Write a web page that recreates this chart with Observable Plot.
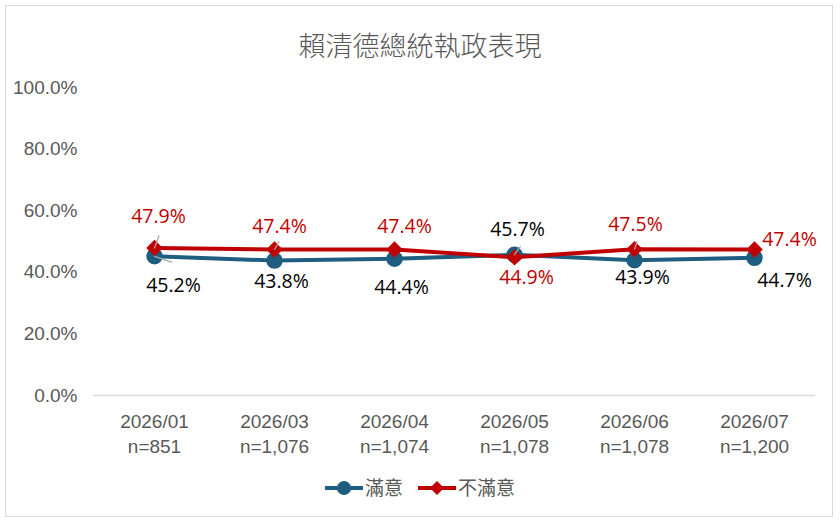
<!DOCTYPE html>
<html><head><meta charset="utf-8">
<script src="https://cdn.jsdelivr.net/npm/d3@7"></script>
<script src="https://cdn.jsdelivr.net/npm/@observablehq/plot@0.6"></script>
<style>
html,body{margin:0;padding:0;background:#fff}
body{width:840px;height:522px;position:relative;overflow:hidden}
#frame{position:absolute;left:5px;top:5px;width:828px;height:512px;border:1px solid #d9d9d9;box-sizing:border-box}
#title{position:absolute;left:0;top:27px;width:840px;text-align:center;font-family:"Noto Sans CJK TC",sans-serif;font-size:27px;font-weight:300;color:#595959;line-height:36px}
#chart{position:absolute;left:0;top:65px}
#legend{position:absolute;left:0;top:474px;width:840px;height:28px}
</style>
</head><body>
<div id="frame"></div>
<div id="title">賴清德總統執政表現</div>
<div id="chart"></div>
<div id="legend"></div>
<script>
const categories = ["2026/01","2026/03","2026/04","2026/05","2026/06","2026/07"];
const sampleSizes = ["851","1,076","1,074","1,078","1,078","1,200"];
const satisfied = [45.2,43.8,44.4,45.7,43.9,44.7];
const dissatisfied = [47.9,47.4,47.4,44.9,47.5,47.4];
const yTicks = [0,20,40,60,80,100];
const seriesNames = ["滿意","不滿意"];

const blue = "#1d5e80", red = "#c00000";
// label offsets in pixels (layout only)
const satOffsets = [[19,29],[7,21],[7,29],[3,-25],[8,17],[30,23]];
const disOffsets = [[4,-31],[5,-23],[10,-23],[12,21],[1,-24],[35,-10]];
// leader lines: [series, index, angle, length]
const leaders = [["dis",0,20,13],["sat",0,109,18],["dis",1,30,9],["sat",3,35,10],["dis",4,18,8]];

const satData = categories.map((c,i)=>({c, v: satisfied[i]}));
const disData = categories.map((c,i)=>({c, v: dissatisfied[i]}));

const labelMarks = [];
satData.forEach((d,i)=>labelMarks.push(Plot.text([d],{x:"c",y:"v",text:d=>d.v.toFixed(1)+"%",dx:satOffsets[i][0],dy:satOffsets[i][1],fill:"#000",fontSize:19.5,fontFamily:"Open Sans"})));
disData.forEach((d,i)=>labelMarks.push(Plot.text([d],{x:"c",y:"v",text:d=>d.v.toFixed(1)+"%",dx:disOffsets[i][0],dy:disOffsets[i][1],fill:red,fontSize:19.5,fontFamily:"Open Sans"})));
const leaderMarks = leaders.map(([s,i,a,l])=>{
  const d = (s==="sat"?satData:disData)[i];
  return Plot.vector([d],{x:"c",y:"v",rotate:a,length:l,anchor:"start",stroke:"#a6a6a6",strokeWidth:1.3,shape:{draw(ctx,l){ctx.moveTo(0,0);ctx.lineTo(0,-l);}}});
});

const chart = Plot.plot({
  width: 840, height: 395,
  marginLeft: 93, marginRight: 25, marginTop: 22, marginBottom: 65,
  style: {fontFamily: '"Liberation Sans Narrow","Liberation Sans",sans-serif', fontSize: "19px", color: "#595959", background: "transparent"},
  x: {type: "point", domain: categories, padding: 0.5},
  y: {domain: [0,100]},
  marks: [
    Plot.ruleY([0], {stroke: "#d9d9d9", strokeWidth: 1.3}),
    Plot.axisY(yTicks, {tickSize: 0, tickPadding: 16, tickFormat: d => d.toFixed(1)+"%", fontSize: 19, label: null}),
    Plot.axisX({tickSize: 0, tickPadding: 15, lineHeight: 1.3, fontSize: 19,
      tickFormat: d => d + "\nn=" + sampleSizes[categories.indexOf(d)], label: null}),
    Plot.line(satData, {x:"c", y:"v", stroke: blue, strokeWidth: 4}),
    Plot.dot(satData, {x:"c", y:"v", r: 7.5, fill: blue, stroke: blue}),
    Plot.line(disData, {x:"c", y:"v", stroke: red, strokeWidth: 4}),
    Plot.dot(disData, {x:"c", y:"v", r: 6.5, symbol: "diamond2", fill: red, stroke: red}),
    ...leaderMarks,
    ...labelMarks
  ]
});
document.getElementById("chart").appendChild(chart);

// legend
const lg = d3.select("#legend").append("svg").attr("width",840).attr("height",28);
const items = [{name: seriesNames[0], color: blue, x: 325, shape: "circle"},{name: seriesNames[1], color: red, x: 418, shape: "diamond"}];
items.forEach(it=>{
  const g = lg.append("g").attr("transform",`translate(${it.x},14)`);
  g.append("line").attr("x1",0).attr("x2",38).attr("stroke",it.color).attr("stroke-width",4);
  if(it.shape==="circle") g.append("circle").attr("cx",19).attr("r",7).attr("fill",it.color);
  else g.append("path").attr("d","M19,-7L26,0L19,7L12,0Z").attr("fill",it.color);
  g.append("text").attr("x",40).attr("y",0).attr("dy","0.36em").attr("font-family","Noto Sans CJK TC").attr("font-size",19).attr("fill","#595959").text(it.name);
});
</script>
</body></html>
